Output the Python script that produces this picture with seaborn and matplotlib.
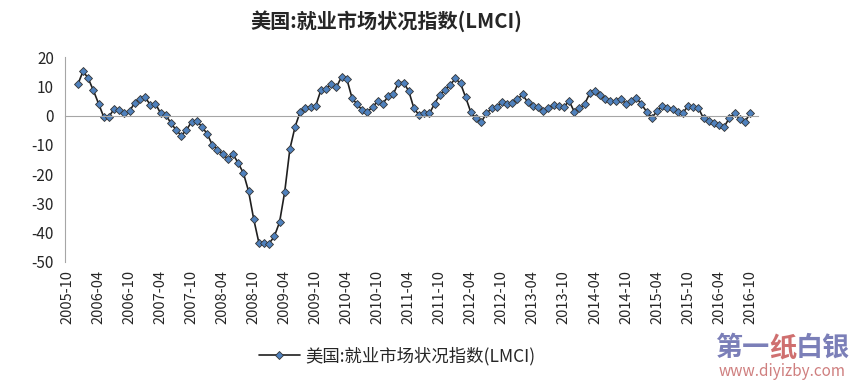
import numpy as np
import pandas as pd
import seaborn as sns
import matplotlib.pyplot as plt

# axis categories (monthly), labels every 6 months
first_month = '2005-10'
last_month = '2016-10'
label_step = 6

# LMCI values, monthly from 2005-12 to 2016-10
series_start = '2005-12'
lmci = [10.8, 15.3, 12.8, 8.7, 4.2, -0.4, -0.4, 2.4, 2.0, 1.0, 1.6, 4.5, 5.9, 6.3,
        3.8, 4.2, 0.8, 0.2, -2.5, -4.9, -6.8, -4.9, -2.0, -1.7, -3.8, -6.2, -10.0, -11.6,
        -13.0, -14.9, -13.2, -16.2, -19.6, -25.8, -35.4, -43.5, -43.5, -43.8, -41.3,
        -36.5, -26.1, -11.4, -3.8, 1.4, 2.7, 3.1, 3.4, 8.8, 9.1, 11.0, 9.8,
        13.4, 12.7, 6.2, 3.9, 2.0, 1.3, 3.1, 4.9, 4.2, 6.7, 7.4, 11.4, 11.4, 8.4,
        2.5, 0.2, 0.8, 0.8, 4.2, 7.2, 8.8, 10.6, 12.8, 11.1, 6.3, 1.2, -0.9,
        -2.2, 0.8, 2.5, 3.1, 4.8, 4.2, 4.5, 5.6, 7.3, 4.6, 3.3, 3.1, 1.7, 2.7,
        3.7, 3.4, 3.0, 5.1, 1.4, 2.5, 4.0, 7.7, 8.5, 7.1, 5.8, 5.0, 5.0,
        5.7, 4.2, 5.1, 6.2, 3.9, 1.4, -0.6, 1.5, 3.4, 2.7, 2.2, 1.4, 1.0, 3.3,
        3.1, 2.7, -0.9, -1.8, -2.4, -3.2, -3.8, -0.7, 0.8, -1.1, -2.1, 0.8]

title = '美国:就业市场状况指数(LMCI)'

sns.set_style('white')
plt.rcParams['font.family'] = ['Noto Sans CJK SC', 'DejaVu Sans']
plt.rcParams['axes.unicode_minus'] = False

months = pd.period_range(first_month, last_month, freq='M')
offset = (pd.Period(series_start, 'M') - months[0]).n
df = pd.DataFrame({'pos': np.arange(len(lmci)) + offset, 'lmci': lmci})

fig = plt.figure(figsize=(8.65, 3.83), dpi=100)
ax = fig.add_axes([0.0751, 0.317, 0.801, 0.533])

sns.lineplot(data=df, x='pos', y='lmci', ax=ax, color='#1f1f1f', lw=1.2,
             marker='D', markersize=4.3, markerfacecolor='#4F81BD',
             markeredgecolor='#333333', markeredgewidth=0.6, label=title)

ax.set_xlim(-0.5, len(months) + 0.5)
ax.set_ylim(-50, 20)
ax.set_yticks(np.arange(-50, 21, 10))
ax.set_xlabel('')
ax.set_ylabel('')

# category axis crosses at 0: tick marks there, labels at the bottom
grey = '#a6a6a6'
for s in ['top', 'right']:
    ax.spines[s].set_visible(False)
ax.spines['bottom'].set_position(('data', 0))
ax.spines['bottom'].set_color(grey)
ax.spines['left'].set_color(grey)
ax.set_xticks(np.arange(-0.5, len(months), label_step))
ax.tick_params(axis='x', length=5, color=grey, labelbottom=False, direction='out')
ax.tick_params(axis='y', length=5, color=grey, direction='out', labelsize=11, pad=3)

lab_pos = np.arange(0, len(months), label_step)
sec = ax.secondary_xaxis('bottom')
sec.set_xticks(lab_pos, [str(months[i]) for i in lab_pos], rotation=90)
sec.tick_params(length=0, labelsize=10.5, pad=6)
sec.spines['bottom'].set_visible(False)

fig.text(0.447, 0.945, title, ha='center', va='center', fontsize=14.5, fontweight='bold')

ax.legend_.remove()
handles, labels = ax.get_legend_handles_labels()
fig.legend(handles, labels, loc='center', bbox_to_anchor=(0.459, 0.07), frameon=False,
           fontsize=12.5, handlelength=2.4, handletextpad=0.3)

# watermark
wm_blue = '#7b7fb8'
wm_red = '#cf6f6f'
fig.text(0.827, 0.091, '第一', color=wm_blue, fontsize=19.5, fontweight='bold', ha='left', va='center')
fig.text(0.889, 0.091, '纸', color=wm_red, fontsize=19.5, fontweight='bold', ha='left', va='center')
fig.text(0.920, 0.091, '白银', color=wm_blue, fontsize=19.5, fontweight='bold', ha='left', va='center')
fig.text(0.904, 0.031, 'www.diyizby.com', color='#cf7f7f', fontsize=11, ha='center', va='center')

fig.savefig('out.png', dpi=100)
